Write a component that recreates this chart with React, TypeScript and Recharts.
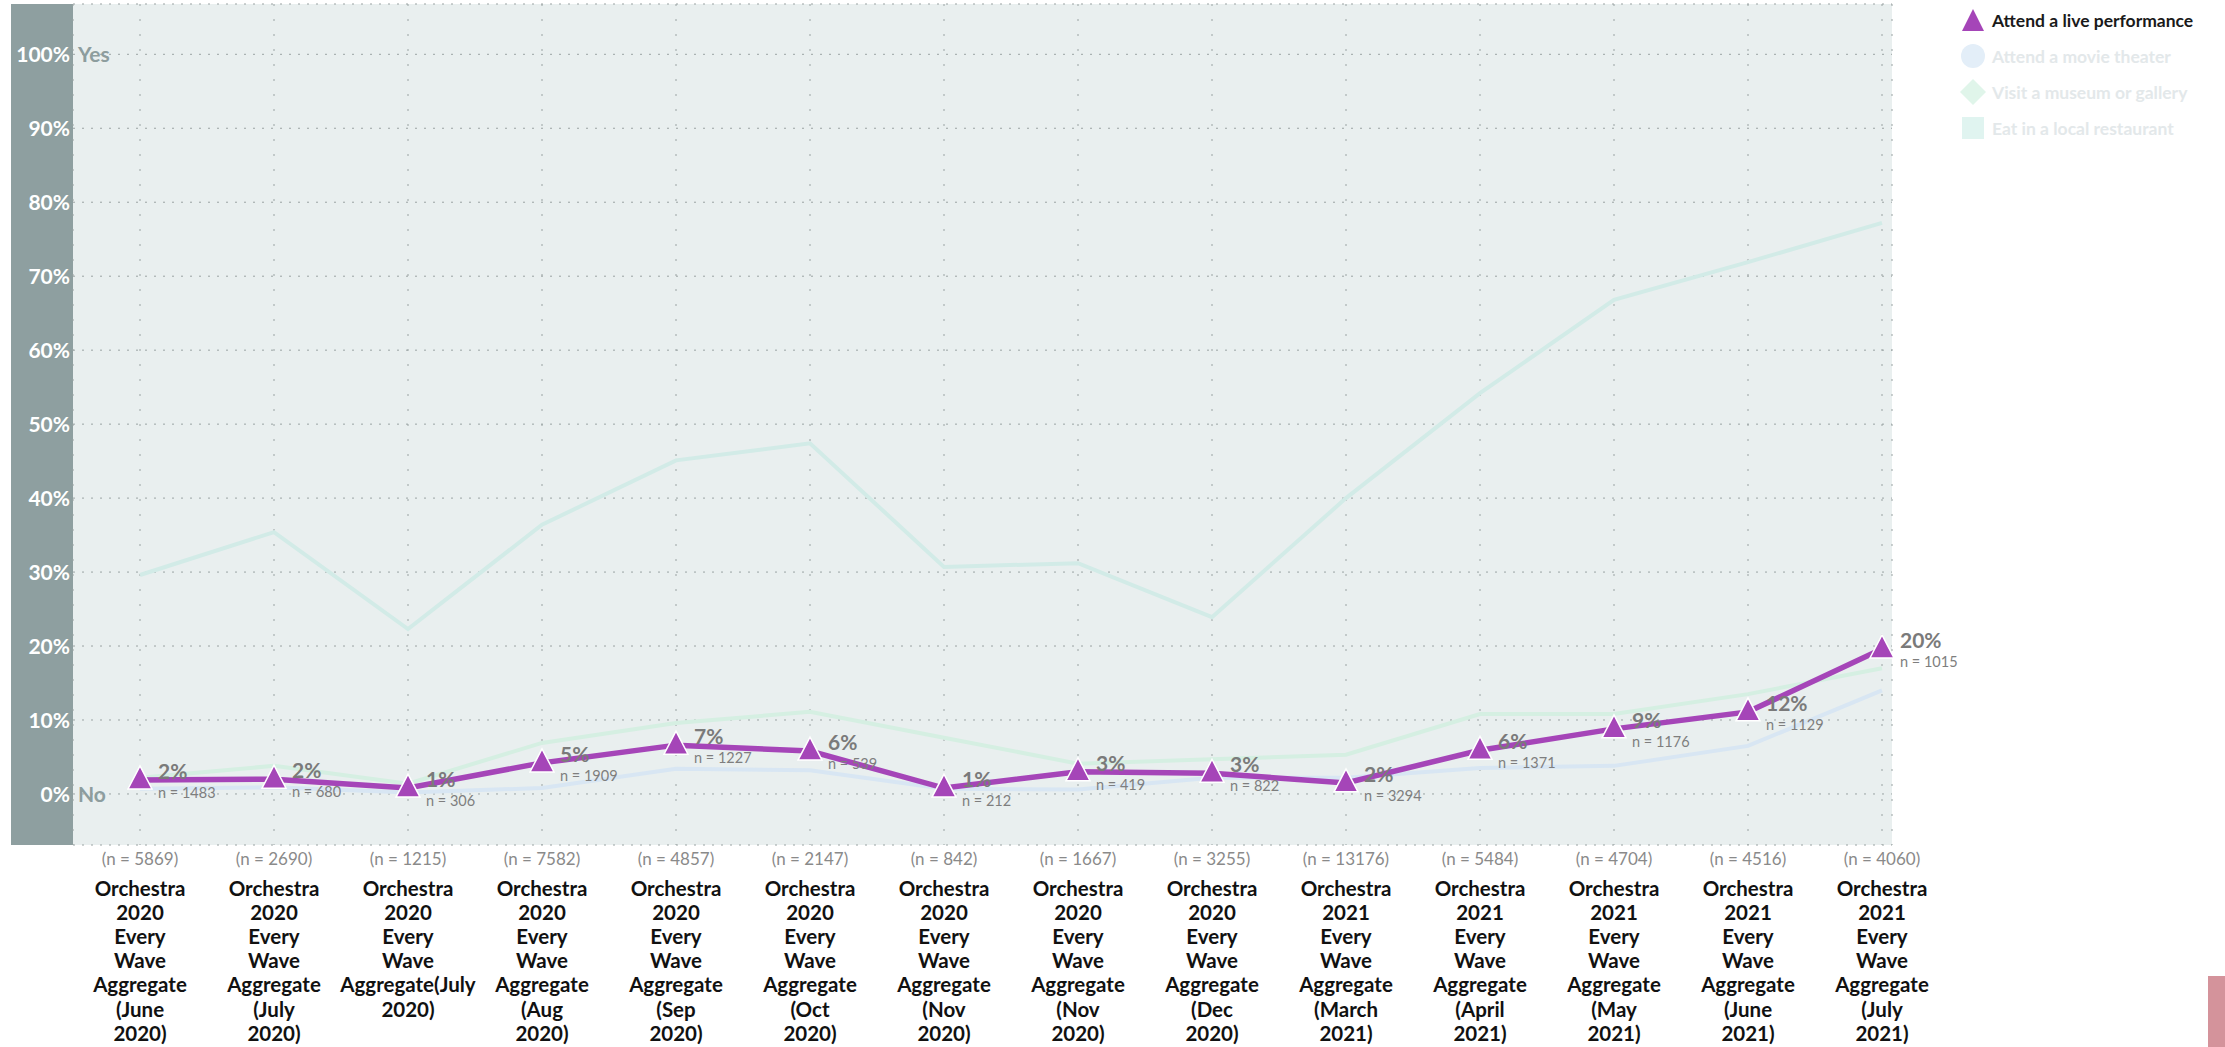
import React from 'react';
import { LineChart, Line, XAxis, YAxis, CartesianGrid, LabelList } from 'recharts';

const categories = [
  'Orchestra 2020 Every Wave Aggregate (June 2020)',
  'Orchestra 2020 Every Wave Aggregate (July 2020)',
  'Orchestra 2020 Every Wave Aggregate(July 2020)',
  'Orchestra 2020 Every Wave Aggregate (Aug 2020)',
  'Orchestra 2020 Every Wave Aggregate (Sep 2020)',
  'Orchestra 2020 Every Wave Aggregate (Oct 2020)',
  'Orchestra 2020 Every Wave Aggregate (Nov 2020)',
  'Orchestra 2020 Every Wave Aggregate (Nov 2020) ',
  'Orchestra 2020 Every Wave Aggregate (Dec 2020)',
  'Orchestra 2021 Every Wave Aggregate (March 2021)',
  'Orchestra 2021 Every Wave Aggregate (April 2021)',
  'Orchestra 2021 Every Wave Aggregate (May 2021)',
  'Orchestra 2021 Every Wave Aggregate (June 2021)',
  'Orchestra 2021 Every Wave Aggregate (July 2021)',
];
const sampleSizes = [5869, 2690, 1215, 7582, 4857, 2147, 842, 1667, 3255, 13176, 5484, 4704, 4516, 4060];

const livePerformance = [1.9, 2.0, 0.8, 4.2, 6.6, 5.8, 0.8, 3.0, 2.8, 1.5, 5.9, 8.8, 11.1, 19.6];
const liveLabels = ['2%', '2%', '1%', '5%', '7%', '6%', '1%', '3%', '3%', '2%', '6%', '9%', '12%', '20%'];
const liveN = [1483, 680, 306, 1909, 1227, 539, 212, 419, 822, 3294, 1371, 1176, 1129, 1015];
const movieTheater = [0.7, 0.9, 0.2, 0.8, 3.4, 3.2, 0.7, 0.6, 2.2, 2.2, 3.5, 3.8, 6.5, 14.0];
const museumGallery = [2.2, 3.8, 1.4, 6.9, 9.6, 11.1, 7.6, 4.1, 4.7, 5.3, 10.8, 10.8, 13.5, 17.0];
const localRestaurant = [29.6, 35.4, 22.3, 36.4, 45.1, 47.4, 30.7, 31.2, 23.9, 40.0, 54.2, 66.8, 71.9, 77.2];

const yTicks = [0, 10, 20, 30, 40, 50, 60, 70, 80, 90, 100];

const data = categories.map((cat, i) => ({
  cat,
  n: sampleSizes[i],
  live: livePerformance[i],
  liveLabel: liveLabels[i],
  liveN: liveN[i],
  movie: movieTheater[i],
  museum: museumGallery[i],
  restaurant: localRestaurant[i],
}));

const PURPLE = '#a545b8';

const XTick = (props: any) => {
  const { x, y, payload, index } = props;
  const lines = String(payload.value).trim().split(' ');
  return (
    <g>
      <text x={x} y={y + 12} textAnchor="middle" fontSize={17} fill="#8a8a8a" fontFamily="Lato">
        (n = {sampleSizes[index]})
      </text>
      {lines.map((l, k) => (
        <text key={k} x={x} y={y + 43 + k * 24.1} textAnchor="middle" fontSize={20.5}
          fontWeight={700} fill="#111" fontFamily="Lato">
          {l}
        </text>
      ))}
    </g>
  );
};

const YTick = (props: any) => {
  const { x, y, payload } = props;
  const v = payload.value;
  return (
    <g>
      <text x={x} y={y + 8} textAnchor="end" fontSize={21} fontWeight={700} fill="#ffffff" fontFamily="Lato">
        {v}%
      </text>
      {(v === 100 || v === 0) && (
        <text x={x + 8} y={y + 8} textAnchor="start" fontSize={21} fontWeight={700} fill="#8d9d9e" fontFamily="Lato">
          {v === 100 ? 'Yes' : 'No'}
        </text>
      )}
    </g>
  );
};

const TriangleDot = (props: any) => {
  const { cx, cy } = props;
  if (cx == null || cy == null) return null;
  return (
    <polygon
      points={`${cx},${cy - 14} ${cx - 12},${cy + 9} ${cx + 12},${cy + 9}`}
      fill={PURPLE}
      stroke="#ffffff"
      strokeWidth={1.5}
    />
  );
};

const PointLabel = (props: any) => {
  const { x, y, index } = props;
  return (
    <g>
      <text x={x + 18} y={y - 1} fontSize={21} fontWeight={700} fill="#7a7a7a" fontFamily="Lato">
        {liveLabels[index]}
      </text>
      <text x={x + 18} y={y + 18} fontSize={14.5} fill="#7e7e7e" fontFamily="Lato">
        n = {liveN[index]}
      </text>
    </g>
  );
};

const legendItems = [
  { name: 'Attend a live performance', color: PURPLE, text: '#1a1a1a', shape: 'triangle' },
  { name: 'Attend a movie theater', color: '#e3eef8', text: '#e3e8ea', shape: 'circle' },
  { name: 'Visit a museum or gallery', color: '#e0f5ea', text: '#e3e8ea', shape: 'diamond' },
  { name: 'Eat in a local restaurant', color: '#e0f4f0', text: '#e3e8ea', shape: 'square' },
];

const LegendShape = ({ shape, color }: { shape: string; color: string }) => (
  <svg width={26} height={26} style={{ display: 'block' }}>
    {shape === 'triangle' && <polygon points="13,2 2,24 24,24" fill={color} />}
    {shape === 'circle' && <circle cx={13} cy={13} r={12} fill={color} />}
    {shape === 'diamond' && <polygon points="13,0 26,13 13,26 0,13" fill={color} />}
    {shape === 'square' && <rect x={2} y={2} width={22} height={22} fill={color} />}
  </svg>
);

export default function App() {
  return (
    <div style={{ position: 'absolute', left: 0, top: 0, width: 2225, height: 1047, background: '#fff' }}>
      <div style={{ position: 'absolute', left: 11, top: 4, width: 62, height: 841, background: '#8e9fa0' }} />
      <div style={{ position: 'absolute', left: 0, top: 0 }}>
        <LineChart width={2225} height={1047} data={data} margin={{ top: 4, right: 333, left: 0, bottom: 0 }}>
          <CartesianGrid fill="#e9efef" stroke="#9aa3a3" strokeDasharray="2 13" horizontal={false} />
          <CartesianGrid stroke="#9aa3a3" strokeDasharray="2 7" vertical={false} />
          <XAxis
            dataKey="cat"
            padding={{ left: 67, right: 10 }}
            height={202}
            axisLine={false}
            tickLine={false}
            interval={0}
            tick={<XTick />}
          />
          <YAxis
            type="number"
            domain={[-6.9, 106.8]}
            ticks={yTicks}
            width={73}
            axisLine={false}
            tickLine={false}
            tickSize={0}
            tickMargin={3}
            allowDataOverflow
            tick={<YTick />}
          />
          <Line dataKey="restaurant" stroke="#d2ebe7" strokeWidth={4} dot={false} isAnimationActive={false} />
          <Line dataKey="museum" stroke="#d5efe2" strokeWidth={4} dot={false} isAnimationActive={false} />
          <Line dataKey="movie" stroke="#d8e6f3" strokeWidth={4} dot={false} isAnimationActive={false} />
          <Line dataKey="live" stroke={PURPLE} strokeWidth={5.5} dot={<TriangleDot />} isAnimationActive={false}>
            <LabelList dataKey="liveLabel" content={<PointLabel />} />
          </Line>
        </LineChart>
      </div>
      <div style={{ position: 'absolute', left: 1960, top: 2 }}>
        {legendItems.map((it) => (
          <div key={it.name} style={{ display: 'flex', alignItems: 'center', height: 36 }}>
            <LegendShape shape={it.shape} color={it.color} />
            <span style={{ marginLeft: 6, fontFamily: 'Lato', fontWeight: 700, fontSize: 17.5, color: it.text }}>
              {it.name}
            </span>
          </div>
        ))}
      </div>
      <div style={{ position: 'absolute', left: 2208, top: 976, width: 17, height: 71, background: '#d4939b' }} />
    </div>
  );
}
